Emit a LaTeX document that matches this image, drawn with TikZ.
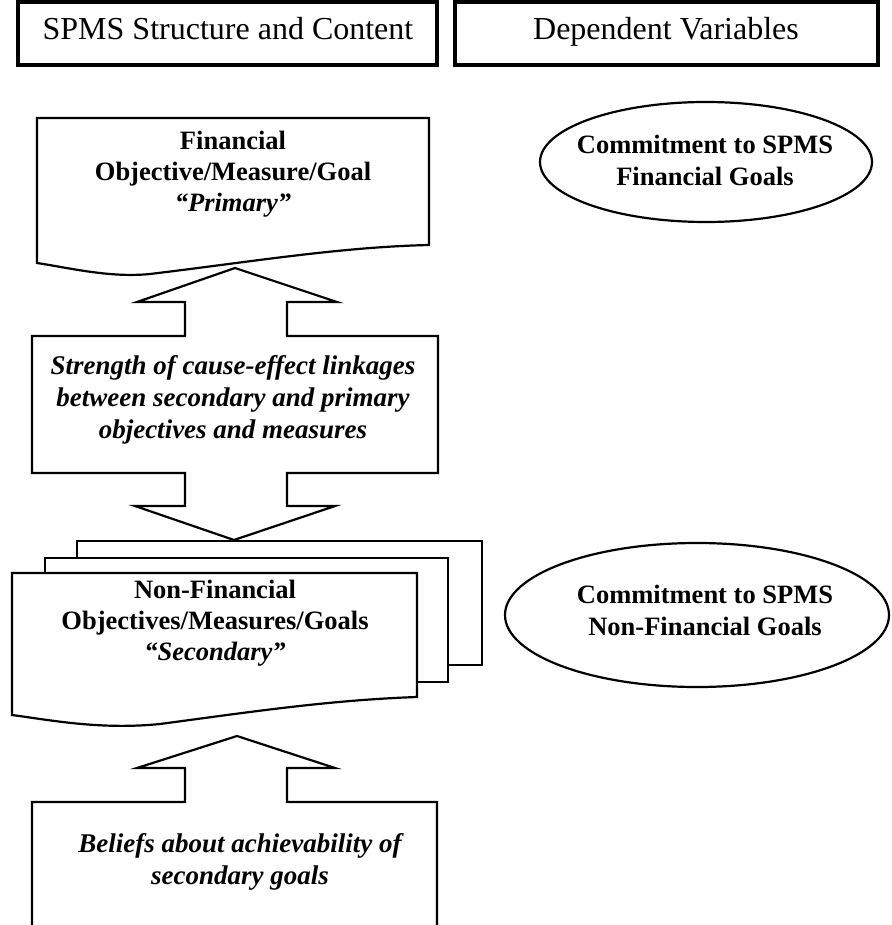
\documentclass[tikz,border=0pt]{standalone}
\usepackage{fontspec}
\setmainfont{Liberation Serif}
\begin{document}
\begin{tikzpicture}[x=1pt,y=-1pt,line join=miter]
\tikzset{
  hdrbox/.style={draw,line width=3.8pt},
  hdrtext/.style={font=\fontsize{32}{36}\selectfont,inner sep=0pt,anchor=base},
  shp/.style={draw,line width=2.2pt,fill=white},
  ttl/.style={align=center,font=\fontsize{26.5}{31}\selectfont\bfseries,inner sep=0pt},
  itl/.style={align=center,font=\fontsize{27}{32}\selectfont\bfseries\itshape,inner sep=0pt},
  deptext/.style={align=center,inner sep=0pt,font=\fontsize{26.5}{32}\selectfont\bfseries},
  depring/.style={draw,line width=2.2pt},
}
\useasboundingbox (0,0) rectangle (891,925);
\fill[white] (0,0) rectangle (891,925);
\clip (0,0) rectangle (891,925);

% header boxes
\draw[hdrbox] (18,2) rectangle (437,65);
\draw[hdrbox] (455,2) rectangle (878,65);
\node[hdrtext] (h1) at (228,40) {SPMS Structure and Content};
\node[hdrtext] (h2) at (666,40) {Dependent Variables};

% financial (primary) document box
\draw[shp] (37,118) -- (429,118) -- (429,245)
  .. controls (340,247) and (250,262) .. (150,274)
  .. controls (110,278) and (70,268) .. (37,263) -- cycle;
\node[ttl] (fin) at (233,174) {Financial\\Objective/Measure/Goal\\{\itshape “Primary”}};

% linkage box with double block arrow
\draw[shp] (235,268) -- (337,302) -- (287,302) -- (287,336) -- (438,336)
  -- (438,473) -- (287,473) -- (287,506) -- (335,506) -- (234,540)
  -- (135,506) -- (185,506) -- (185,473) -- (32,473) -- (32,336)
  -- (185,336) -- (185,302) -- (137,302) -- cycle;
\node[itl] (link) at (233,400) {Strength of cause-effect linkages\\between secondary and primary\\objectives and measures};

% stacked secondary boxes
\draw[shp] (77,541) rectangle (482,665);
\draw[shp] (45,558) rectangle (448,682);
\draw[shp] (12,573) -- (417,573) -- (417,697)
  .. controls (330,700) and (250,712) .. (160,724)
  .. controls (100,730) and (50,720) .. (12,715) -- cycle;
\node[ttl] (nonfin) at (215,623) {Non-Financial\\Objectives/Measures/Goals\\{\itshape “Secondary”}};

% beliefs box with up block arrow
\draw[shp] (437,930) -- (437,802) -- (287,802) -- (287,768) -- (335,768)
  -- (237,736) -- (137,768) -- (185,768) -- (185,802) -- (32,802) -- (32,930);
\node[itl] (belief) at (240,862) {Beliefs about achievability of\\secondary goals};

% dependent variables
\coordinate (e1) at (706,162);
\coordinate (e2) at (697,615);
\draw[depring] (e1) ellipse [x radius=166pt, y radius=60pt];
\draw[depring] (e2) ellipse [x radius=192pt, y radius=72pt];
\node[deptext] (c1) at (705,160) {Commitment to SPMS\\Financial Goals};
\node[deptext] (c2) at (705,610) {Commitment to SPMS\\Non-Financial Goals};
\end{tikzpicture}
\end{document}
